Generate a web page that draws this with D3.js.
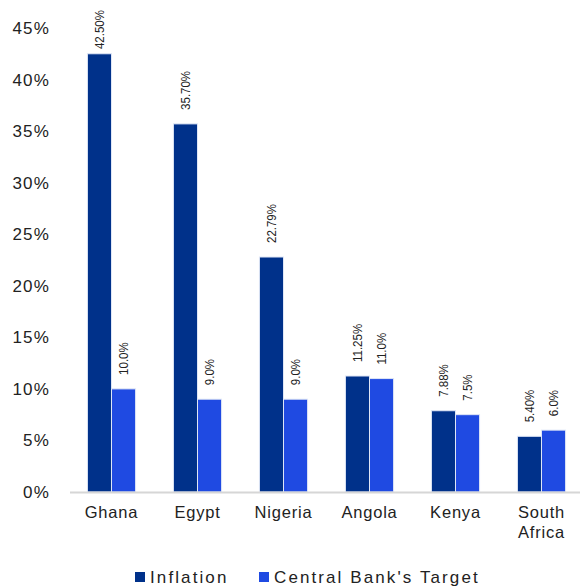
<!DOCTYPE html>
<html>
<head>
<meta charset="utf-8">
<script src="https://cdn.jsdelivr.net/npm/d3@7"></script>
<style>
  html, body { margin: 0; padding: 0; background: #fff; }
  svg { display: block; font-family: "Liberation Sans", Arial, sans-serif; }
</style>
</head>
<body>
<svg id="chart" width="580" height="587"></svg>
<script>
// Inflation vs. central bank targets, selected African economies
const countries = ["Ghana", "Egypt", "Nigeria", "Angola", "Kenya", "South Africa"];
const seriesNames = ["Inflation", "Central Bank's Target"];
const inflation = [42.50, 35.70, 22.79, 11.25, 7.88, 5.40];
const target = [10.0, 9.0, 9.0, 11.0, 7.5, 6.0];
const inflationLabels = ["42.50%", "35.70%", "22.79%", "11.25%", "7.88%", "5.40%"];
const targetLabels = ["10.0%", "9.0%", "9.0%", "11.0%", "7.5%", "6.0%"];
const yTicks = [0, 5, 10, 15, 20, 25, 30, 35, 40, 45];
const colors = ["#00318a", "#1f4ae2"];

const svg = d3.select("#chart");
const W = 580;

const y = d3.scaleLinear().domain([0, 45]).range([492, 28]);
const x0 = d3.scaleBand().domain(countries).range([68.5, 584.5])
  .paddingInner(0.44).paddingOuter(0.22);
const x1 = d3.scaleBand().domain(seriesNames).range([0, x0.bandwidth()]);
const color = d3.scaleOrdinal().domain(seriesNames).range(colors);

const rows = countries.map((c, i) => ({
  country: c,
  values: [
    { series: seriesNames[0], value: inflation[i], label: inflationLabels[i] },
    { series: seriesNames[1], value: target[i], label: targetLabels[i] }
  ]
}));

// y axis: labels only, no domain line or ticks
const yAxis = d3.axisLeft(y).tickValues(yTicks).tickSize(0).tickPadding(0)
  .tickFormat(d => d + "%");
svg.append("g")
  .attr("transform", "translate(50,0)")
  .call(yAxis)
  .call(g => g.select(".domain").remove())
  .call(g => g.selectAll("text")
    .attr("font-size", 17)
    .attr("letter-spacing", 1.2)
    .attr("fill", "#222")
    .attr("font-family", "Liberation Sans, Arial, sans-serif"));

// bars
const groups = svg.append("g").selectAll("g")
  .data(rows).join("g")
  .attr("transform", d => `translate(${x0(d.country)},0)`);

groups.selectAll("rect")
  .data(d => d.values).join("rect")
  .attr("x", d => x1(d.series))
  .attr("y", d => y(d.value))
  .attr("width", x1.bandwidth())
  .attr("height", d => y(0) - y(d.value))
  .attr("fill", d => color(d.series))
  .attr("stroke", "#dfe6f6")
  .attr("stroke-width", 1);

// rotated value labels above each bar (glyphs slightly widened)
groups.selectAll("text.val")
  .data(d => d.values).join("text")
  .attr("class", "val")
  .attr("font-size", 11.5)
  .attr("fill", "#222")
  .attr("dominant-baseline", "central")
  .text(d => d.label)
  .each(function (d) {
    const len = this.getComputedTextLength();
    const cx = x1(d.series) + x1.bandwidth() / 2;
    const yBase = Math.max(y(d.value) - 14, 10 + len);
    d3.select(this).attr("transform",
      `translate(${cx},${yBase}) rotate(-90) scale(1,1.18)`);
  });

// baseline
svg.append("line")
  .attr("x1", 70).attr("x2", W)
  .attr("y1", y(0) + 0.5).attr("y2", y(0) + 0.5)
  .attr("stroke", "#d6d6d6").attr("stroke-width", 2);

// category labels (wrapped onto two lines where needed)
const xl = svg.append("g");
countries.forEach(c => {
  const words = c.split(" ");
  const t = xl.append("text")
    .attr("x", x0(c) + x0.bandwidth() / 2)
    .attr("y", 518)
    .attr("text-anchor", "middle")
    .attr("font-size", 16.5)
    .attr("letter-spacing", 0.8)
    .attr("fill", "#222");
  words.forEach((w, i) => {
    t.append("tspan")
      .attr("x", x0(c) + x0.bandwidth() / 2)
      .attr("dy", i === 0 ? 0 : 20)
      .text(w);
  });
});

// legend
const legend = svg.append("g");
const legendX = [135, 259];
seriesNames.forEach((s, i) => {
  legend.append("rect")
    .attr("x", legendX[i]).attr("y", 572)
    .attr("width", 10).attr("height", 10)
    .attr("fill", color(s));
  legend.append("text")
    .attr("x", legendX[i] + 15).attr("y", 583)
    .attr("font-size", 17)
    .attr("letter-spacing", 2.1)
    .attr("fill", "#222")
    .text(s);
});
</script>
</body>
</html>
